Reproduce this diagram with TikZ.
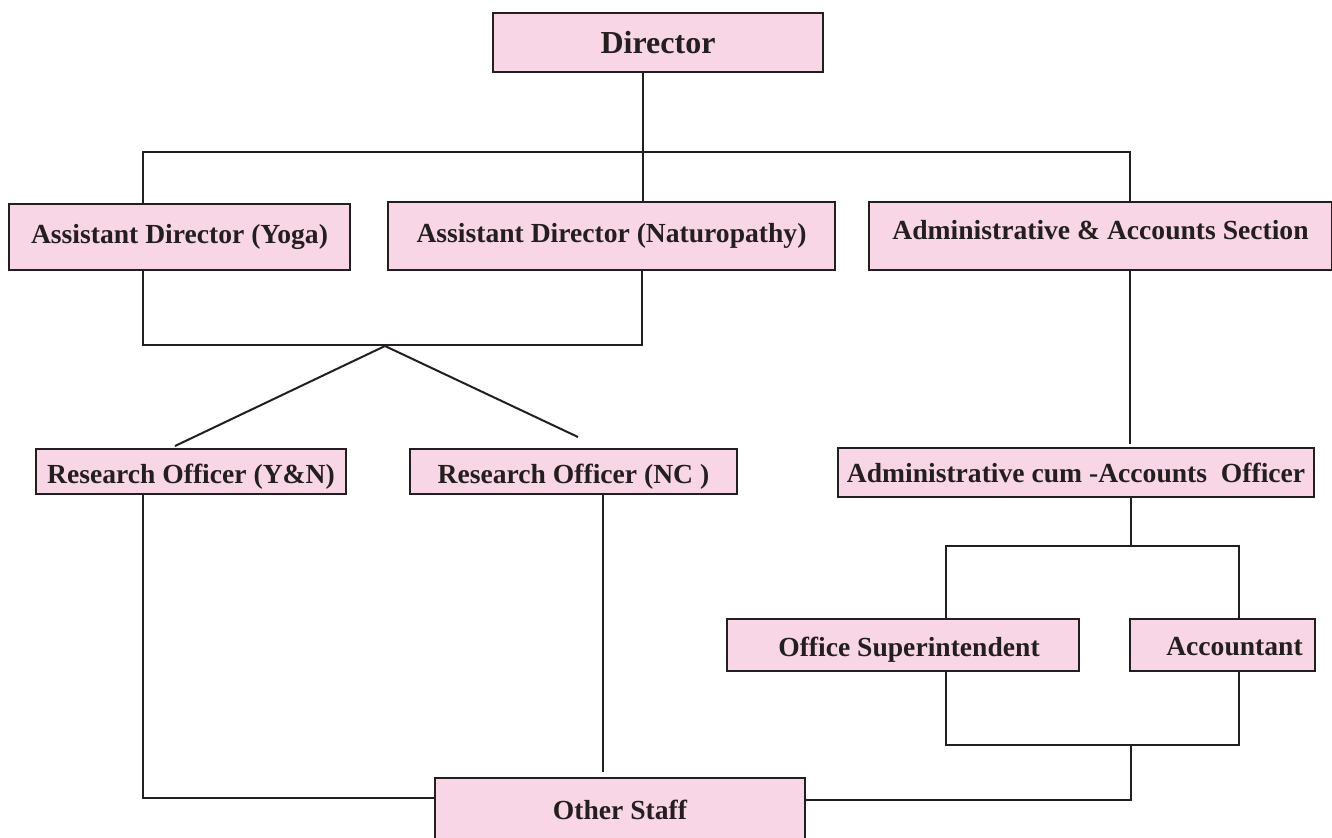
\documentclass[tikz,border=0pt]{standalone}
\usepackage{fontspec}
\setmainfont{Liberation Serif}
\usetikzlibrary{positioning,calc}
\definecolor{boxpink}{RGB}{249,214,229}
\definecolor{boxline}{RGB}{35,31,32}

\begin{document}
\begin{tikzpicture}[
        x=0.5pt, y=-0.5pt,
        box/.style={rectangle, draw=boxline, line width=1.2pt, fill=boxpink, inner sep=0pt, text=boxline, font=\fontsize{13.8}{16}\selectfont\bfseries},
        bigbox/.style={box, font=\fontsize{16}{19}\selectfont\bfseries},
        link/.style={draw=boxline, line width=1pt}
    ]
    \useasboundingbox (0,0) rectangle (1332,837);

    % Top
    \node[bigbox, minimum width=165pt, minimum height=29.5pt] (dir) at (658,42.5) {Director};

    % Second row
    \node[box, minimum width=170.5pt, minimum height=33pt] (ady) at (179.5,237) {Assistant Director (Yoga)};
    \node[box, minimum width=223.5pt, minimum height=34pt] (adn) at (611.5,236) {Assistant Director (Naturopathy)};
    \node[box, minimum width=231.5pt, minimum height=34pt, text depth=6pt] (aas) at (1100.5,236) {Administrative \& Accounts Section};

    % Third row
    \node[box, minimum width=155pt, minimum height=22.5pt, text height=15pt, text depth=3.5pt] (roy) at (191,471.5) {Research Officer (Y\&N)};
    \node[box, minimum width=163.5pt, minimum height=22.5pt, text height=15pt, text depth=3.5pt] (ronc) at (573.5,471.5) {Research Officer (NC\ )};
    \node[box, minimum width=238pt, minimum height=24.5pt] (aao) at (1076,472.5) {Administrative cum -Accounts\ \ Officer};

    % Accounts staff
    \node[box, minimum width=176pt, minimum height=26pt, text height=15pt, text depth=3.5pt] (os) at (903,645) {\hspace{6pt}Office Superintendent};
    \node[box, minimum width=92.5pt, minimum height=26pt, text height=14pt, text depth=3.5pt] (acc) at (1222.5,645) {\hspace{12pt}Accountant};

    % Bottom
    \node[box, minimum width=185pt, minimum height=32pt] (staff) at (620,810) {Other Staff};

    % Director -> second row
    \coordinate (top) at (643,152);
    \coordinate (tl) at (143,152);
    \coordinate (tr) at (1130,152);
    \draw[link] (dir.south -| top) -- (top);
    \draw[link] (ady.north -| tl) -- (tl) -- (tr) -- (aas.north -| tr);
    \draw[link] (top) -- (adn.north -| top);

    % Assistant directors -> research officers
    \coordinate (ml) at (143,345);
    \coordinate (mr) at (642,345);
    \coordinate (fork) at (385,346);
    \coordinate (fy) at (175,446);
    \coordinate (fn) at (578,437);
    \draw[link] (ady.south -| ml) -- (ml) -- (mr) -- (adn.south -| mr);
    \draw[link] (fy) -- (fork) -- (fn);

    % Admin section -> officer -> staff
    \coordinate (ar) at (1130,300);
    \coordinate (sl) at (946,546);
    \coordinate (sr) at (1239,546);
    \coordinate (sm) at (1131,546);
    \draw[link] (aas.south -| ar) -- ($(aao.north -| ar)+(0,-3)$);
    \draw[link] (aao.south -| sm) -- (sm);
    \draw[link] (os.north -| sl) -- (sl) -- (sr) -- (acc.north -| sr);

    % Down to other staff
    \coordinate (bl) at (946,745);
    \coordinate (br) at (1239,745);
    \coordinate (bm) at (1131,745);
    \coordinate (be) at (1131,800);
    \coordinate (ly) at (143,798);
    \coordinate (nc) at (603,772);
    \draw[link] (os.south -| bl) -- (bl) -- (br) -- (acc.south -| br);
    \draw[link] (bm) -- (be) -- (staff.east |- be);
    \draw[link] (roy.south -| ly) -- (ly) -- (staff.west |- ly);
    \draw[link] (ronc.south -| nc) -- (nc);

\end{tikzpicture}
\end{document}
